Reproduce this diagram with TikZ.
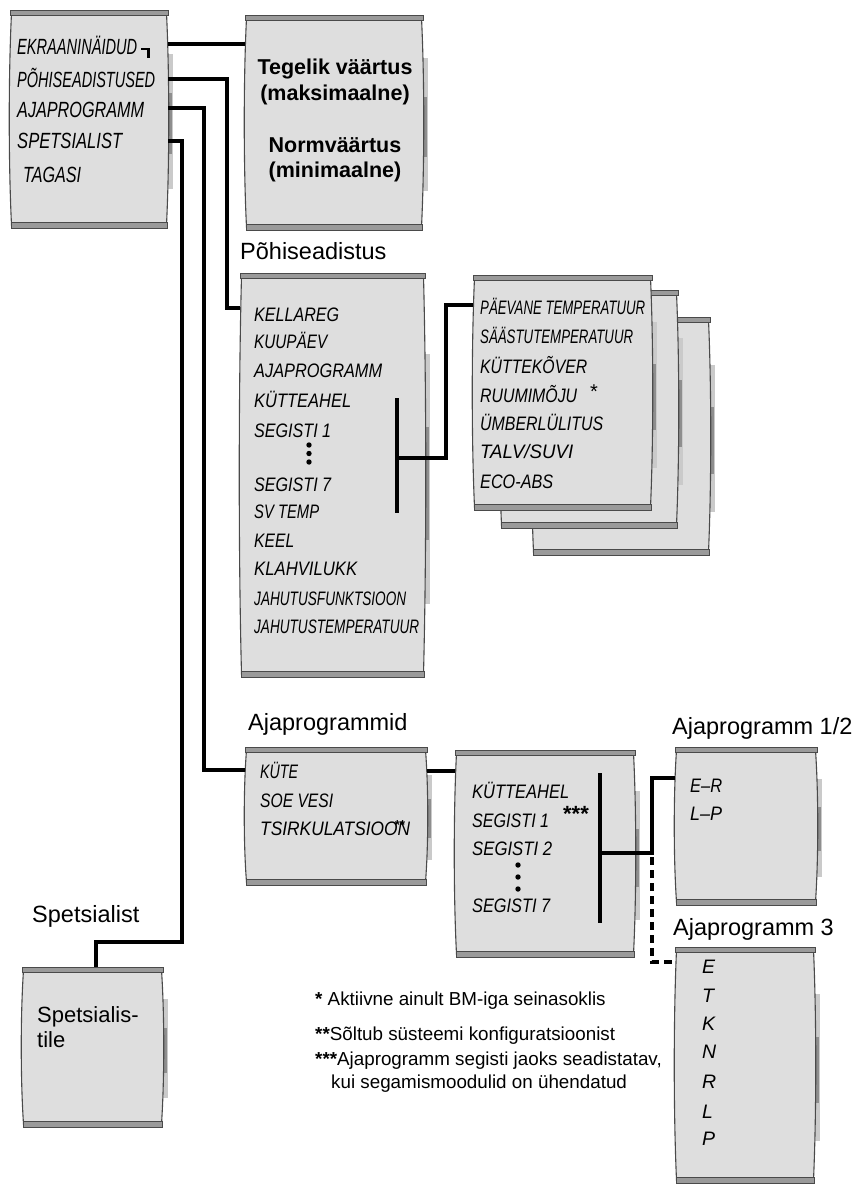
\documentclass[tikz,border=0pt]{standalone}
\usepackage{fontspec}
\usepackage{graphicx}
\setmainfont{Liberation Sans}
\newfontfamily\lcdfont{Liberation Sans}
\usetikzlibrary{calc}
\definecolor{cFill}{HTML}{DEDEDE}
\definecolor{cEdge}{HTML}{4A4A4A}
\definecolor{cBand}{HTML}{9A9A9A}
\definecolor{cShA}{HTML}{CACACA}
\definecolor{cShB}{HTML}{8E8E8E}
\newsavebox\fitbox
\newcommand\fitto[2]{\sbox\fitbox{#2}\edef\fitw{\the\wd\fitbox}\pgfmathsetmacro\fitf{#1/\fitw}\scalebox{\fitf}[1]{\usebox\fitbox}}
\tikzset{
  conn/.style={line width=3.8pt, line join=miter},
  dconn/.style={conn, dash pattern=on 8pt off 5pt},
  panelline/.style={draw=cEdge, line width=1.1pt},
  bandline/.style={draw=cEdge, line width=0.9pt},
  panelnode/.style={draw=none, inner sep=0pt, rectangle},
  lcdL/.style={font=\lcdfont\itshape\fontsize{22}{22}\selectfont, anchor=base west, inner sep=0pt},
  lcd/.style={font=\lcdfont\itshape\fontsize{19.5}{19.5}\selectfont, anchor=base west, inner sep=0pt},
  lbl/.style={font=\fontsize{23.5}{23.5}\selectfont, anchor=base west, inner sep=0pt},
  note/.style={font=\fontsize{18.8}{18.8}\selectfont, anchor=base west, inner sep=0pt},
  boldtxt/.style={font=\bfseries\fontsize{21.5}{21.5}\selectfont, anchor=base, inner sep=0pt},
  dotmark/.style={fill=black, draw=none}
}
\newcommand\lcdpanel[5]{%
  \pgfmathsetmacro\pw{#4-#2}%
  \pgfmathsetmacro\ph{#5-#3}%
  \fill[cShA] (#4-2,{#3+0.2*\ph}) rectangle (#4+5,{#3+0.82*\ph});
  \fill[cShB] (#4-2,{#3+0.38*\ph}) rectangle (#4+4,{#3+0.66*\ph});
  \draw[panelline, fill=cFill] (#2+1.5,#3+3) .. controls (#2-1.5,{#3+0.3*\ph}) and (#2-1.5,{#3+0.7*\ph}) .. (#2+1.5,#5-3) -- (#4-1.5,#5-3) .. controls (#4+1.5,{#3+0.7*\ph}) and (#4+1.5,{#3+0.3*\ph}) .. (#4-1.5,#3+3) -- cycle;
  \draw[bandline, fill=cBand] (#2,#3) rectangle (#4,#3+5);
  \draw[bandline, fill=cBand] (#2+1,#5-6) rectangle (#4-1,#5);
  \node[panelnode, minimum width=\pw pt, minimum height=\ph pt, anchor=north west] (#1) at (#2,#3) {};
}
\begin{document}
\begin{tikzpicture}[x=1pt,y=-1pt]
\useasboundingbox (0,0) rectangle (858,1189);
\fill[white] (0,0) rectangle (858,1189);

% panels
\lcdpanel{main}{10}{10}{168}{228}
\lcdpanel{tv}{245}{15}{423}{230}
\lcdpanel{pb}{240}{273}{425}{677}
\lcdpanel{stc}{532}{317}{710}{555}
\lcdpanel{stb}{500}{290}{678}{528}
\lcdpanel{sta}{473}{275}{652}{510}
\lcdpanel{ap}{245}{747}{427}{885}
\lcdpanel{sg}{455}{750}{635}{957}
\lcdpanel{apa}{675}{747}{817}{905}
\lcdpanel{apb}{675}{947}{815}{1183}
\lcdpanel{sp}{22}{967}{163}{1127}

% main menu
\node[lcdL] (m1) at (17,54) {\fitto{120}{EKRAANINÄIDUD}};
\node[lcdL] (m2) at (17,87) {\fitto{138}{PÕHISEADISTUSED}};
\node[lcdL] (m3) at (17,117) {\fitto{127}{AJAPROGRAMM}};
\node[lcdL] (m4) at (17,148) {\fitto{105}{SPETSIALIST}};
\node[lcdL] (m5) at (23,182) {\fitto{58}{TAGASI}};
\draw[line width=2.8pt] (141,49) -- (148.5,49) -- (148.5,57.5);

% value box
\node[boldtxt] (t1) at (335,74) {Tegelik väärtus};
\node[boldtxt] (t2) at (335,100) {(maksimaalne)};
\node[boldtxt] (t3) at (335,152) {Normväärtus};
\node[boldtxt] (t4) at (335,177) {(minimaalne)};

% labels
\node[lbl] (l1) at (240,259) {Põhiseadistus};
\node[lbl] (l2) at (248,730) {Ajaprogrammid};
\node[lbl] (l3) at (672,734) {Ajaprogramm 1/2};
\node[lbl] (l4) at (673,935) {Ajaprogramm 3};
\node[lbl] (l5) at (32,922) {Spetsialist};

% Põhiseadistus box
\node[lcd] (p1) at (254,321) {\fitto{85}{KELLAREG}};
\node[lcd] (p2) at (254,348) {\fitto{73}{KUUPÄEV}};
\node[lcd] (p3) at (254,377) {\fitto{128}{AJAPROGRAMM}};
\node[lcd] (p4) at (254,407) {\fitto{97}{KÜTTEAHEL}};
\node[lcd] (p5) at (254,437) {\fitto{77}{SEGISTI 1}};
\node[lcd] (p6) at (254,491) {\fitto{77}{SEGISTI 7}};
\node[lcd] (p7) at (254,518) {\fitto{65}{SV TEMP}};
\node[lcd] (p8) at (254,547) {\fitto{40}{KEEL}};
\node[lcd] (p9) at (254,575) {\fitto{103}{KLAHVILUKK}};
\node[lcd] (p10) at (254,605) {\fitto{152}{JAHUTUSFUNKTSIOON}};
\node[lcd] (p11) at (254,633) {\fitto{165}{JAHUTUSTEMPERATUUR}};
\fill[dotmark] (309,445) circle (2.7) (309,453.5) circle (2.7) (309,462) circle (2.7);

% stacked front box
\node[lcd] (s1) at (480,314) {\fitto{165}{PÄEVANE TEMPERATUUR}};
\node[lcd] (s2) at (480,343) {\fitto{153}{SÄÄSTUTEMPERATUUR}};
\node[lcd] (s3) at (480,373) {\fitto{107}{KÜTTEKÕVER}};
\node[lcd] (s4) at (480,402) {\fitto{97}{RUUMIMÕJU}};
\node[lcd] (s5) at (480,430) {\fitto{123}{ÜMBERLÜLITUS}};
\node[lcd] (s6) at (480,458) {\fitto{93}{TALV/SUVI}};
\node[lcd] (s7) at (480,488) {\fitto{73}{ECO-ABS}};
\node[anchor=base, inner sep=0pt, font=\fontsize{20}{20}\selectfont] (ast1) at (594,398.5) {*};

% Ajaprogrammid box
\node[lcd] (a1) at (260,778) {\fitto{38}{KÜTE}};
\node[lcd] (a2) at (260,807) {\fitto{73}{SOE VESI}};
\node[lcd] (a3) at (260,835) {\fitto{150}{TSIRKULATSIOON}};
\node[anchor=base, inner sep=0pt, font=\bfseries\fontsize{13}{13}\selectfont] (ast2) at (400,829) {**};

% segisti box
\node[lcd] (g1) at (472,798) {\fitto{97}{KÜTTEAHEL}};
\node[lcd] (g2) at (472,827) {\fitto{77}{SEGISTI 1}};
\node[lcd] (g3) at (472,855) {\fitto{80}{SEGISTI 2}};
\node[lcd] (g4) at (472,912) {\fitto{78}{SEGISTI 7}};
\node[anchor=base, inner sep=0pt, font=\bfseries\fontsize{22}{22}\selectfont] (ast3) at (576,821.5) {***};
\fill[dotmark] (518,865) circle (2.7) (518,877) circle (2.7) (518,889) circle (2.7);

% Ajaprogramm 1/2
\node[lcd] (e1) at (690,792) {\fitto{32}{E–R}};
\node[lcd] (e2) at (690,820) {\fitto{32}{L–P}};

% Ajaprogramm 3
\node[lcd] (d1) at (702,973) {E};
\node[lcd] (d2) at (702,1002) {T};
\node[lcd] (d3) at (702,1030) {K};
\node[lcd] (d4) at (702,1058) {N};
\node[lcd] (d5) at (702,1088) {R};
\node[lcd] (d6) at (702,1118) {L};
\node[lcd] (d7) at (702,1145) {P};

% Spetsialist box
\node[font=\fontsize{22}{22}\selectfont, anchor=base west, inner sep=0pt] (sx1) at (37,1022) {Spetsialis-};
\node[font=\fontsize{22}{22}\selectfont, anchor=base west, inner sep=0pt] (sx2) at (37,1047) {tile};

% footnotes
\node[note] (f1) at (315,1005) {{\bfseries *} Aktiivne ainult BM-iga seinasoklis};
\node[note] (f2) at (315,1040) {{\bfseries **}Sõltub süsteemi konfiguratsioonist};
\node[note] (f3) at (315,1065) {{\bfseries ***}Ajaprogramm segisti jaoks seadistatav,};
\node[note] (f4) at (331,1088) {kui segamismoodulid on ühendatud};

% connectors
\coordinate (k1) at (0,44);
\draw[conn] (main.east |- k1) -- (tv.west |- k1);
\coordinate (k2) at (227,79);
\coordinate (k2e) at (0,308);
\draw[conn] (main.east |- k2) -- (k2) |- (pb.west |- k2e);
\coordinate (k3) at (204,108);
\coordinate (k3e) at (0,770);
\draw[conn] (main.east |- k3) -- (k3) |- (ap.west |- k3e);
\coordinate (k4) at (182,141);
\coordinate (k4b) at (96,942);
\draw[conn] (main.east |- k4) -- (k4) |- (k4b) -- (k4b |- sp.north);

% bracket in Põhiseadistus
\coordinate (b1t) at (397,398);
\coordinate (b1b) at (397,513);
\coordinate (b1m) at (397,458);
\coordinate (b1k) at (446,458);
\coordinate (b1e) at (0,305);
\draw[conn] (b1t) -- (b1b);
\draw[conn] (b1m) -- (b1k) |- (sta.west |- b1e);

% Ajaprogrammid -> segisti
\coordinate (k6) at (0,771);
\draw[conn] (ap.east |- k6) -- (sg.west |- k6);

% bracket in segisti
\coordinate (b2t) at (600,773);
\coordinate (b2b) at (600,923);
\coordinate (b2m) at (600,853);
\coordinate (b2k) at (652,853);
\coordinate (b2e) at (0,778);
\coordinate (b2d) at (652,857);
\coordinate (b2f) at (652,962);
\draw[conn] (b2t) -- (b2b);
\draw[conn] (b2m) -- (b2k) |- (apa.west |- b2e);
\draw[dconn] (b2d) -- (b2f) -- (apb.west |- b2f);
\end{tikzpicture}
\end{document}
